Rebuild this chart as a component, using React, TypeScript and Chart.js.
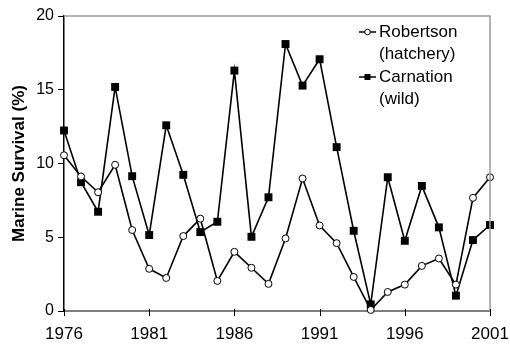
import React, { useEffect, useRef } from "react";
import { Chart, registerables } from "chart.js";

Chart.register(...registerables);

const years = [1976, 1977, 1978, 1979, 1980, 1981, 1982, 1983, 1984, 1985, 1986, 1987, 1988, 1989, 1990, 1991, 1992, 1993, 1994, 1995, 1996, 1997, 1998, 1999, 2000, 2001];
const robertson = [10.56, 9.12, 8.05, 9.91, 5.49, 2.86, 2.24, 5.08, 6.26, 2.04, 4.01, 2.93, 1.84, 4.92, 8.98, 5.8, 4.6, 2.31, 0.07, 1.29, 1.79, 3.06, 3.56, 1.79, 7.67, 9.07];
const carnation = [12.24, 8.73, 6.73, 15.19, 9.14, 5.15, 12.59, 9.23, 5.35, 6.05, 16.3, 5.03, 7.71, 18.1, 15.28, 17.07, 11.11, 5.44, 0.45, 9.07, 4.76, 8.48, 5.67, 1.04, 4.81, 5.83];
const xTicks = [1976, 1981, 1986, 1991, 1996, 2001];
const legendLines = [["Robertson", "(hatchery)"], ["Carnation", "(wild)"]];
const yTitle = "Marine Survival (%)";

const FONT = "'Liberation Sans', Arial, sans-serif";

const decorPlugin = {
  id: "decor",
  afterDraw(chart: any) {
    const { ctx, chartArea } = chart;
    ctx.save();
    ctx.strokeStyle = "#9a9a9a";
    ctx.lineWidth = 1.5;
    ctx.beginPath();
    ctx.moveTo(chartArea.left, chartArea.top);
    ctx.lineTo(chartArea.right, chartArea.top);
    ctx.lineTo(chartArea.right, chartArea.bottom);
    ctx.stroke();
    // x tick marks
    ctx.strokeStyle = "#000";
    ctx.lineWidth = 1;
    const xs = chart.scales.x;
    xTicks.forEach((v) => {
      const px = Math.round(xs.getPixelForValue(v)) + 0.5;
      ctx.beginPath();
      ctx.moveTo(px, chartArea.bottom - 2);
      ctx.lineTo(px, chartArea.bottom + 5);
      ctx.stroke();
    });
    ctx.fillStyle = "#000";
    ctx.font = `bold 17px ${FONT}`;
    ctx.textAlign = "center";
    ctx.textBaseline = "middle";
    ctx.translate(19, (chartArea.top + chartArea.bottom) / 2);
    ctx.rotate(-Math.PI / 2);
    ctx.fillText(yTitle, 0, 0);
    ctx.restore();

    ctx.save();
    ctx.font = `17px ${FONT}`;
    ctx.textBaseline = "middle";
    ctx.textAlign = "left";
    ctx.fillStyle = "#000";
    const x0 = 359, x1 = 376, tx = 379;
    const ys = [32, 77];
    legendLines.forEach((lines, i) => {
      const y = ys[i];
      ctx.strokeStyle = "#000";
      ctx.lineWidth = 1.5;
      ctx.beginPath();
      ctx.moveTo(x0, y);
      ctx.lineTo(x1, y);
      ctx.stroke();
      const cx = (x0 + x1) / 2;
      if (i === 0) {
        ctx.beginPath();
        ctx.arc(cx, y, 2.8, 0, Math.PI * 2);
        ctx.fillStyle = "#fff";
        ctx.fill();
        ctx.lineWidth = 1;
        ctx.stroke();
      } else {
        ctx.fillStyle = "#000";
        ctx.fillRect(cx - 3, y - 3, 6, 6);
      }
      ctx.fillStyle = "#000";
      lines.forEach((t, j) => ctx.fillText(t, tx, y + j * 22));
    });
    ctx.restore();
  },
};

export default function App() {
  const ref = useRef<HTMLCanvasElement>(null);
  useEffect(() => {
    document.body.style.margin = "0";
    const chart = new Chart(ref.current!, {
      type: "line",
      data: {
        datasets: [
          {
            label: "Robertson (hatchery)",
            data: years.map((y, i) => ({ x: y, y: robertson[i] })),
            borderColor: "#000",
            borderWidth: 1.6,
            pointStyle: "circle",
            pointRadius: 3.5,
            pointBorderWidth: 1,
            pointBackgroundColor: "#fff",
            pointBorderColor: "#000",
            tension: 0,
            clip: false as any,
          },
          {
            label: "Carnation (wild)",
            data: years.map((y, i) => ({ x: y, y: carnation[i] })),
            borderColor: "#000",
            borderWidth: 1.6,
            pointStyle: "rect",
            pointRadius: 5.6,
            pointBorderWidth: 0,
            pointBackgroundColor: "#000",
            pointBorderColor: "#000",
            tension: 0,
            clip: false as any,
          },
        ],
      },
      options: {
        animation: false,
        responsive: false,
        layout: { padding: { top: 16, right: 20, left: 0, bottom: 0 } },
        plugins: { legend: { display: false }, tooltip: { enabled: false } },
        scales: {
          x: {
            type: "linear",
            min: 1976,
            max: 2001,
            afterBuildTicks: (s: any) => { s.ticks = xTicks.map((v) => ({ value: v })); },
            ticks: { color: "#000", font: { family: FONT, size: 17 }, padding: 1, maxRotation: 0, callback: (v: any) => String(v) },
            grid: { display: true, drawOnChartArea: false, drawTicks: true, tickLength: 12, tickColor: "rgba(0,0,0,0)", color: "rgba(0,0,0,0)" },
            border: { color: "#7f7f7f", width: 2 },
            afterFit: (s: any) => { s.height = 35; },
          },
          y: {
            min: 0,
            max: 20,
            ticks: { stepSize: 5, color: "#000", font: { family: FONT, size: 16 }, padding: 4 },
            grid: { display: true, drawOnChartArea: false, drawTicks: true, tickLength: 6, color: "#000" },
            border: { color: "#000", width: 1.5 },
            afterFit: (s: any) => { s.width = 64; },
          },
        },
      },
      plugins: [decorPlugin],
    });
    return () => chart.destroy();
  }, []);
  return (
    <div style={{ position: "absolute", left: 0, top: 0, width: 510, height: 346 }}>
      <canvas ref={ref} width={510} height={346} style={{ width: 510, height: 346 }} />
    </div>
  );
}
